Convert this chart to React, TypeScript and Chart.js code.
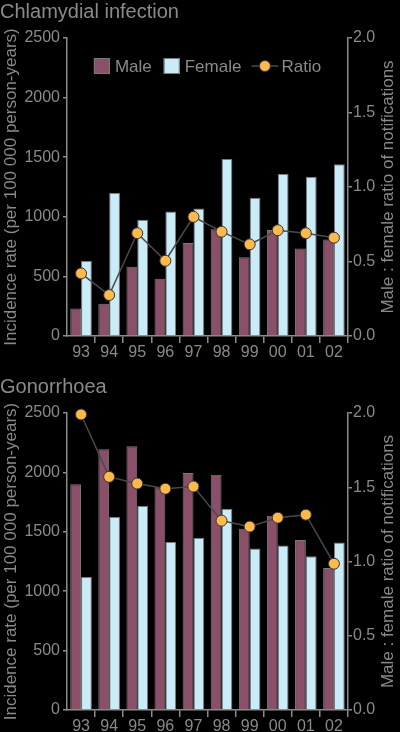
import React, { useEffect, useRef } from 'react';
import { Chart, registerables } from 'chart.js';

Chart.register(...registerables);

const years = ['93', '94', '95', '96', '97', '98', '99', '00', '01', '02'];

const chlamydiaMale = [230, 270, 580, 480, 780, 895, 660, 890, 735, 810];
const chlamydiaFemale = [630, 1200, 975, 1045, 1070, 1485, 1160, 1360, 1335, 1440];
const chlamydiaRatio = [0.42, 0.275, 0.69, 0.505, 0.8, 0.7, 0.615, 0.71, 0.69, 0.66];

const gonorrhoeaMale = [1900, 2195, 2220, 1875, 1995, 1980, 1525, 1635, 1430, 1195];
const gonorrhoeaFemale = [1120, 1625, 1720, 1415, 1450, 1695, 1360, 1385, 1295, 1410];
const gonorrhoeaRatio = [1.99, 1.57, 1.525, 1.49, 1.505, 1.275, 1.235, 1.295, 1.315, 0.985];

const incidenceTicks = [0, 500, 1000, 1500, 2000, 2500];
const ratioTicks = [0, 0.5, 1.0, 1.5, 2.0];

const leftTitle = 'Incidence rate (per 100 000 person-years)';
const rightTitle = 'Male : female ratio of notifications';

const TEXT = '#8a8a8a';
const AXIS = '#8c8c8c';
const MALE = '#8a5069';
const FEMALE = '#c9ecf8';
const BAR_EDGE = '#7a7a7a';
const ORANGE = '#fdb94c';
const LINE = '#4a4a4a';
const FONT = '"Liberation Sans", Arial, sans-serif';

Chart.defaults.font.family = FONT;

// right axis title reads bottom-to-top in the original, so draw it here
const rightAxisTitle = {
  id: 'rightAxisTitle',
  afterDraw(chart: any) {
    const { ctx, chartArea } = chart;
    ctx.save();
    ctx.font = '17px ' + FONT;
    ctx.fillStyle = TEXT;
    ctx.textAlign = 'center';
    ctx.textBaseline = 'middle';
    ctx.translate(chart.width - 11.5, (chartArea.top + chartArea.bottom) / 2);
    ctx.rotate(-Math.PI / 2);
    ctx.fillText(rightTitle, 0, 0);
    ctx.restore();
  },
};

// legend drawn inside the plot area, like the original
const insideLegend = {
  id: 'insideLegend',
  afterDraw(chart: any) {
    const { ctx, chartArea } = chart;
    const ds = chart.data.datasets;
    const find = (l: string) => ds.find((d: any) => d.label === l);
    const male = find('Male');
    const female = find('Female');
    const ratio = find('Ratio');
    ctx.save();
    ctx.font = '17px ' + FONT;
    ctx.textBaseline = 'middle';
    const wM = ctx.measureText(male.label).width;
    const wF = ctx.measureText(female.label).width;
    const wR = ctx.measureText(ratio.label).width;
    const total = 16 + 5 + wM + 12 + 16 + 5 + wF + 10 + 27 + 3 + wR;
    let x = (chartArea.left + chartArea.right) / 2 - total / 2;
    const cy = chartArea.top + 28;

    const box = (d: any) => {
      ctx.fillStyle = d.backgroundColor;
      ctx.fillRect(x, cy - 8, 16, 16);
      ctx.strokeStyle = BAR_EDGE;
      ctx.lineWidth = 1;
      ctx.strokeRect(x + 0.5, cy - 7.5, 15, 15);
      x += 21;
      ctx.fillStyle = TEXT;
      ctx.fillText(d.label, x, cy + 1);
    };
    box(male);
    x += wM + 12;
    box(female);
    x += wF + 10;

    ctx.strokeStyle = ratio.borderColor;
    ctx.lineWidth = 1.5;
    ctx.beginPath();
    ctx.moveTo(x, cy);
    ctx.lineTo(x + 27, cy);
    ctx.stroke();
    ctx.beginPath();
    ctx.arc(x + 13.5, cy, 5.5, 0, Math.PI * 2);
    ctx.fillStyle = ratio.pointBackgroundColor;
    ctx.fill();
    ctx.strokeStyle = ratio.pointBorderColor;
    ctx.lineWidth = 1;
    ctx.stroke();
    x += 30;
    ctx.fillStyle = TEXT;
    ctx.fillText(ratio.label, x, cy + 1);
    ctx.restore();
  },
};

type PanelProps = {
  title: string;
  male: number[];
  female: number[];
  ratio: number[];
  titleTop: number;
  titleBottom: number;
  xHeight: number;
  showLegend: boolean;
};

function Panel({ title, male, female, ratio, titleTop, titleBottom, xHeight, showLegend }: PanelProps) {
  const chartRef = useRef<HTMLCanvasElement>(null);
  const chartInstance = useRef<Chart | null>(null);

  useEffect(() => {
    if (!chartRef.current) return;
    if (chartInstance.current) chartInstance.current.destroy();

    chartInstance.current = new Chart(chartRef.current, {
      type: 'bar',
      data: {
        labels: years,
        datasets: [
          {
            type: 'line',
            label: 'Ratio',
            data: ratio,
            yAxisID: 'y1',
            order: 0,
            clip: false,
            borderColor: LINE,
            borderWidth: 1.5,
            pointRadius: 5.5,
            pointBackgroundColor: ORANGE,
            pointBorderColor: '#333',
            pointBorderWidth: 1,
            tension: 0,
          } as any,
          {
            label: 'Male',
            data: male,
            yAxisID: 'y',
            order: 1,
            backgroundColor: MALE,
            borderColor: BAR_EDGE,
            borderWidth: 1,
            categoryPercentage: 0.77,
            barPercentage: 1,
          },
          {
            label: 'Female',
            data: female,
            yAxisID: 'y',
            order: 1,
            backgroundColor: FEMALE,
            borderColor: BAR_EDGE,
            borderWidth: 1,
            categoryPercentage: 0.77,
            barPercentage: 1,
          },
        ],
      },
      options: {
        animation: false,
        responsive: true,
        maintainAspectRatio: false,
        layout: { padding: 0 },
        plugins: {
          legend: { display: false },
          tooltip: { enabled: false },
          title: {
            display: true,
            text: title,
            align: 'start',
            color: TEXT,
            font: { size: 20, weight: 'normal' },
            padding: { top: titleTop, bottom: titleBottom },
          },
        },
        scales: {
          x: {
            offset: true,
            grid: {
              offset: true,
              drawOnChartArea: false,
              tickLength: 7,
              lineWidth: 1.5,
              color: (c: any) =>
                c.index === 0 || c.index === years.length ? 'rgba(0,0,0,0)' : AXIS,
            },
            border: { color: AXIS, width: 1.5 },
            ticks: { color: TEXT, font: { size: 16 }, padding: 0, maxRotation: 0, autoSkip: false },
            afterFit: (s: any) => {
              s.height = xHeight;
            },
          },
          y: {
            position: 'left',
            min: incidenceTicks[0],
            max: incidenceTicks[incidenceTicks.length - 1],
            ticks: {
              stepSize: incidenceTicks[1] - incidenceTicks[0],
              color: TEXT,
              font: { size: 16 },
              padding: 3,
              callback: (v: any) => String(v),
            },
            grid: { drawOnChartArea: false, tickLength: 4, color: AXIS, lineWidth: 1.5 },
            border: { color: AXIS, width: 1.5 },
            title: {
              display: true,
              text: leftTitle,
              color: TEXT,
              font: { size: 17 },
              padding: { top: 1, bottom: 0 },
            },
            afterFit: (s: any) => {
              s.width = 67;
            },
          },
          y1: {
            position: 'right',
            min: ratioTicks[0],
            max: ratioTicks[ratioTicks.length - 1],
            ticks: {
              stepSize: ratioTicks[1] - ratioTicks[0],
              color: TEXT,
              font: { size: 16 },
              padding: 1,
              callback: (v: any) => Number(v).toFixed(1),
            },
            grid: { drawOnChartArea: false, tickLength: 4, color: AXIS, lineWidth: 1.5 },
            border: { color: AXIS, width: 1.5 },
            afterFit: (s: any) => {
              s.width = 52;
            },
          },
        },
      },
      plugins: showLegend ? [rightAxisTitle, insideLegend] : [rightAxisTitle],
    });

    return () => {
      if (chartInstance.current) {
        chartInstance.current.destroy();
        chartInstance.current = null;
      }
    };
  }, []);

  return (
    <div style={{ position: 'relative', width: 400, height: 366 }}>
      <canvas ref={chartRef} />
    </div>
  );
}

export default function App() {
  useEffect(() => {
    document.body.style.margin = '0';
    document.body.style.background = '#000';
  }, []);

  return (
    <div style={{ width: 400, height: 732, background: '#000' }}>
      <Panel
        title="Chlamydial infection"
        male={chlamydiaMale}
        female={chlamydiaFemale}
        ratio={chlamydiaRatio}
        titleTop={0}
        titleBottom={14}
        xHeight={30}
        showLegend={true}
      />
      <Panel
        title="Gonorrhoea"
        male={gonorrhoeaMale}
        female={gonorrhoeaFemale}
        ratio={gonorrhoeaRatio}
        titleTop={9}
        titleBottom={14}
        xHeight={22}
        showLegend={false}
      />
    </div>
  );
}
